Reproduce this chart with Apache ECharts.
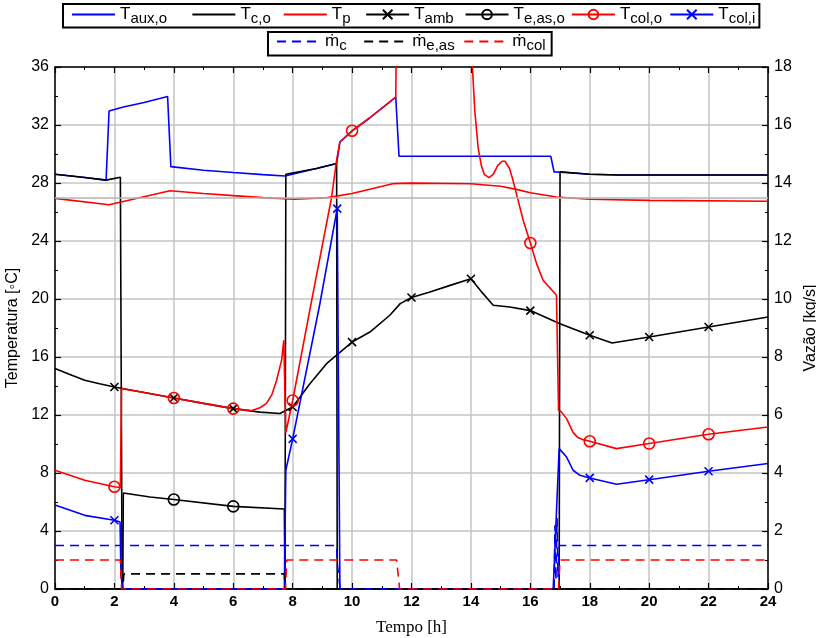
<!DOCTYPE html>
<html>
<head>
<meta charset="utf-8">
<script src="https://cdn.jsdelivr.net/npm/echarts@6/dist/echarts.min.js"></script>
<style>
html,body{margin:0;padding:0;background:#fff;}
#chart{width:816px;height:638px;}
</style>
</head>
<body>
<div id="chart"></div>
<script>
// ---- data (time [h], value) ----
const xTicks = [0, 24, 2];
const yLeft = [0, 36, 4];
const yRight = [0, 18, 2];
const refLine = 27;

const tAuxO = [[0,28.6],[1,28.38],[1.72,28.2],[1.82,32.97],[2.3,33.24],[3,33.55],[3.79,33.96],[3.9,29.13],[5,28.88],[6,28.72],[7,28.58],[7.74,28.48],[7.77,28.6],[8.8,29.0],[9.48,29.34],[9.59,30.83],[10,31.6],[10.6,32.5],[11.47,33.93],[11.58,29.84],[16.69,29.84],[16.8,28.76],[17,28.75],[18,28.6],[19,28.55],[24,28.55]];
const tCO = [[0,28.6],[1,28.38],[1.72,28.2],[2.2,28.4],[2.26,0],[7.74,0],[7.77,28.6],[8.8,29.0],[9.48,29.34],[9.5,0],[16.97,0],[17.0,28.78],[18,28.6],[19,28.55],[24,28.55]];
const tP = [[0,26.94],[1.82,26.5],[3.87,27.47],[5,27.28],[6,27.13],[7,26.99],[8.05,26.88],[9.17,26.99],[10,27.27],[11.4,27.96],[12,27.99],[14,27.95],[15,27.78],[15.53,27.56],[16,27.33],[16.88,27.03],[18,26.88],[20,26.8],[24,26.74]];
const tAmb = [[0,15.2],[0.5,14.8],[1,14.4],[1.5,14.15],[2,13.93],[3,13.55],[4,13.17],[5,12.8],[6,12.44],[6.9,12.2],[7.57,12.1],[8,12.55],[8.58,14.16],[9.14,15.54],[10,17.03],[10.6,17.72],[11.27,18.88],[11.62,19.68],[12,20.1],[12.62,20.48],[13.3,20.94],[14,21.4],[14.41,20.37],[14.75,19.57],[15.31,19.45],[16,19.2],[17,18.3],[18,17.5],[18.75,16.97],[20,17.38],[22,18.07],[24,18.76]];
const tEasO = [[0,0],[2.28,0],[2.3,6.62],[3.2,6.34],[4,6.17],[6,5.7],[7.72,5.52],[7.74,0],[24,0]];
const tColO = [[0,8.19],[1,7.5],[2,7.05],[2.2,7.0],[2.24,13.82],[3,13.55],[4,13.17],[5,12.8],[6,12.44],[6.6,12.3],[6.9,12.5],[7.12,12.8],[7.3,13.4],[7.46,14.4],[7.63,15.8],[7.7,17.15],[7.77,10.78],[8,13.0],[8.64,19.9],[9.31,27.0],[9.48,29.6],[9.59,30.83],[10,31.6],[10.6,32.5],[11.47,33.93],[11.52,44],[13.95,44],[14.05,36],[14.13,33],[14.24,30.48],[14.35,29.2],[14.45,28.6],[14.61,28.37],[14.75,28.6],[14.9,29.2],[15.05,29.5],[15.15,29.5],[15.3,29.0],[15.4,28.3],[15.53,27.27],[15.76,25.43],[16,23.86],[16.21,22.44],[16.43,21.29],[16.88,20.26],[16.95,12.3],[17.03,12.25],[17.22,11.75],[17.44,10.8],[17.6,10.44],[17.78,10.3],[18,10.19],[18.9,9.68],[20,10.03],[22,10.67],[24,11.17]];
const tColI = [[0,5.8],[1,5.08],[2,4.74],[2.19,4.62],[2.22,1],[2.28,0],[7.72,0],[7.77,8.19],[8,10.35],[8.9,19.5],[9.5,26.23],[9.59,0],[16.77,0],[16.97,9.68],[17.22,9.1],[17.44,8.19],[17.67,7.84],[18,7.66],[18.9,7.22],[20,7.54],[22,8.12],[24,8.65]];
const mC = [[0,1.5],[9.48,1.5],[9.5,0.9],[9.6,0],[16.8,0],[16.83,2.2],[16.86,0.3],[16.9,2.45],[16.93,0.4],[16.97,1.5],[24,1.5]];
const mEas = [[0,0],[2.28,0],[2.32,0.52],[7.72,0.52],[7.74,0],[24,0]];
const mCol = [[0,1.0],[2.2,1.0],[2.24,0],[7.76,0],[7.8,1.0],[11.5,1.0],[11.6,0],[16.95,0],[17.0,1.0],[24,1.0]];

const markAmb = [2,4,6,8,10,12,14,16,18,20,22];
const markEas = [4,6];
const markColO = [2,4,6,8,10,16,18,20,22];
const markColI = [2,8,9.5,18,20,22];

const names1 = ['T_aux,o','T_c,o','T_p','T_amb','T_e,as,o','T_col,o','T_col,i'];
const names2 = ['ṁ_c','ṁ_e,as','ṁ_col'];
const plainNames = ['T_aux,o','T_c,o','T_p','ṁ_c','ṁ_e,as','ṁ_col'];

// ---- build ----
const BLUE = '#0000ff', RED = '#ff0000', BLACK = '#000000';
const xPath = 'path://M0,0L10,10M10,0L0,10';

function withMarks(arr, marks) {
  return arr.map(p => marks.includes(p[0]) ? {value: p} : {value: p, symbol: 'none'});
}
function solid(name, data, color, yIndex) {
  return {name, type:'line', data, xAxisIndex:0, yAxisIndex:yIndex||0, symbol:'none',
    lineStyle:{color, width:1.6}, itemStyle:{color}, animation:false, silent:true};
}
function marked(name, data, marks, color, sym, size) {
  return {name, type:'line', data: withMarks(data, marks), xAxisIndex:0, yAxisIndex:0,
    symbol: sym, symbolSize: size, showAllSymbol: true,
    lineStyle:{color, width:1.6},
    itemStyle:{color: 'rgba(0,0,0,0)', borderColor: color, borderWidth: 1.6},
    animation:false, silent:true};
}
function dashed(name, data, color) {
  return {name, type:'line', data, xAxisIndex:0, yAxisIndex:1, symbol:'none',
    lineStyle:{color, width:1.6, type:[9,6]}, itemStyle:{color}, animation:false, silent:true};
}

const series = [
  solid(names1[0], tAuxO, BLUE),
  solid(names1[1], tCO, BLACK),
  Object.assign(solid(names1[2], tP, RED), {markLine:{silent:true, symbol:'none', label:{show:false},
     lineStyle:{color:'#b4b4b4', width:1.5, type:'solid'}, data:[{yAxis: refLine}], animation:false}}),
  marked(names1[3], tAmb, markAmb, BLACK, xPath, 8),
  marked(names1[4], tEasO, markEas, BLACK, 'circle', 11),
  marked(names1[5], tColO, markColO, RED, 'circle', 11),
  marked(names1[6], tColI, markColI, BLUE, xPath, 8),
  dashed(names2[0], mC, BLUE),
  dashed(names2[1], mEas, BLACK),
  dashed(names2[2], mCol, RED)
];

// legend label box widths (subscript part), to reproduce the column spacing
const allNames = names1.concat(names2);
const subW = [61, 32, 23, 40, 47, 39, 25, 24, 37, 19];
const rich = {
  n: {fontSize: 17, fontFamily: 'Liberation Sans', color: '#000', lineHeight: 24, verticalAlign: 'middle'}
};
subW.forEach((w, i) => {
  rich['s' + i] = {fontSize: 15, fontFamily: 'Liberation Sans', color: '#000', lineHeight: 24,
                   verticalAlign: 'bottom', width: w};
});
function fmt(name) {
  const i = name.indexOf('_');
  const k = allNames.indexOf(name);
  return '{n|' + name.slice(0, i) + '}{s' + k + '|' + name.slice(i + 1) + '}';
}
function legendData(list) {
  return list.map(n => plainNames.includes(n) ? {name: n, itemStyle: {opacity: 0}} : {name: n});
}

const axisCommon = {
  axisLine: {onZero:false, lineStyle:{color:'#000', width:1.5}},
  axisTick: {inside:true, length:6, lineStyle:{color:'#000', width:1.2}},
  minorTick: {show:true, splitNumber:2, length:3, lineStyle:{color:'#000', width:1}},
};

const option = {
  animation: false,
  backgroundColor: '#fff',
  grid: {left:55, right:48, top:67, bottom:49, containLabel:false, outerBoundsMode:'none'},
  legend: [
    {data: legendData(names1), left: 63, top: 4, orient:'horizontal', itemWidth: 43, itemHeight: 12, itemGap: 0,
     padding: [2, 4, 1, 8], borderColor:'#000', borderWidth: 2, backgroundColor:'#fff',
     formatter: fmt, textStyle: {rich}, selectedMode:false},
    {data: legendData(names2), left: 268, top: 32, orient:'horizontal', itemWidth: 43, itemHeight: 12, itemGap: 0,
     padding: [1, 6, 2, 8], borderColor:'#000', borderWidth: 2, backgroundColor:'#fff',
     formatter: fmt, textStyle: {rich}, selectedMode:false}
  ],
  xAxis: [
    Object.assign({type:'value', min:xTicks[0], max:xTicks[1], interval:xTicks[2], position:'bottom',
      axisLabel:{color:'#000', fontSize:15, fontWeight:'bold', fontFamily:'Liberation Sans', margin:5},
      splitLine:{show:true, lineStyle:{color:'#c4c4c4', width:1.5}},
      name:'Tempo [h]', nameLocation:'middle', nameGap:30,
      nameTextStyle:{color:'#000', fontSize:17, fontFamily:'Liberation Serif'}}, axisCommon),
    Object.assign({type:'value', min:xTicks[0], max:xTicks[1], interval:xTicks[2], position:'top',
      axisLabel:{show:false}, splitLine:{show:false}}, axisCommon)
  ],
  yAxis: [
    Object.assign({type:'value', min:yLeft[0], max:yLeft[1], interval:yLeft[2], position:'left',
      axisLabel:{color:'#000', fontSize:16, fontFamily:'Liberation Sans', margin:6},
      splitLine:{show:true, lineStyle:{color:'#c4c4c4', width:1.5}},
      name:'Temperatura [◦C]', nameLocation:'middle', nameGap:31, nameRotate:90,
      nameTextStyle:{color:'#000', fontSize:16, fontFamily:'Liberation Sans'}}, axisCommon),
    Object.assign({type:'value', min:yRight[0], max:yRight[1], interval:yRight[2], position:'right',
      axisLabel:{color:'#000', fontSize:16, fontFamily:'Liberation Sans', margin:6},
      splitLine:{show:false},
      name:'Vazão [kg/s]', nameLocation:'middle', nameGap:27, nameRotate:90,
      nameTextStyle:{color:'#000', fontSize:16, fontFamily:'Liberation Sans'}}, axisCommon)
  ],
  series
};

const chart = echarts.init(document.getElementById('chart'), null, {renderer:'canvas'});
chart.setOption(option);
</script>
</body>
</html>
